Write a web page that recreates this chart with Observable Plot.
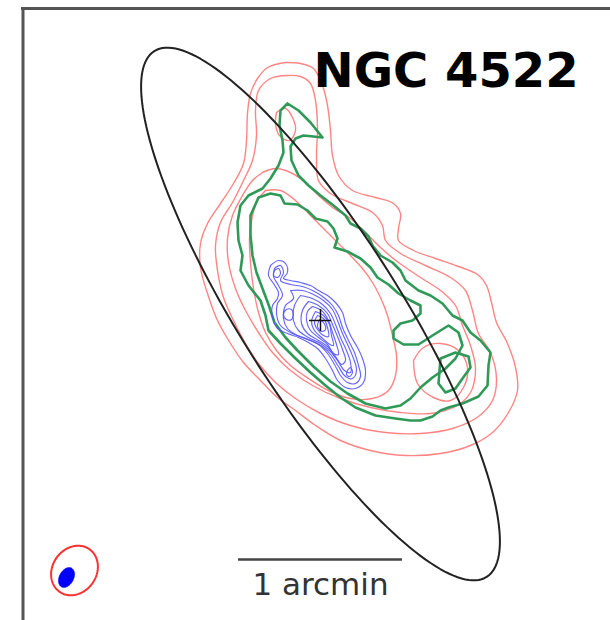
<!DOCTYPE html>
<html><head><meta charset="utf-8">
<script src="https://cdn.jsdelivr.net/npm/d3@7"></script>
<script src="https://cdn.jsdelivr.net/npm/@observablehq/plot@0.6"></script>
<style>body{margin:0;background:#fff}svg{display:block}</style>
</head><body><div id="chart"></div>
<script>
// sky-plane positions (pixel units of the original map), y grows downward
const title = "NGC 4522";
const scaleLabel = "1 arcmin";
const scaleBar = [238, 402];      // x extent of 1 arcmin bar
const scaleBarY = 559;
const center = [320, 320];        // optical centre (cross)
// optical disk ellipse: cx, cy, semi-major, semi-minor, angle (deg)
const diskEllipse = [320, 313.5, 311, 80, 57.7];
// beams: cx, cy, a, b, angle
const beamRed = [74, 570, 26, 22, -55];
const beamBlue = [66, 577, 10.5, 7, -62];

const red1 = [[285,62],[300,63],[313,68],[322,85],[327,105],[330,130],[332,155],[338,175],[352,190],[375,197],[393,203],[400,213],[398,228],[398,240],[413,250],[435,258],[458,266],[477,274],[486,285],[491,302],[496,322],[507,343],[515,367],[517,390],[508,412],[492,432],[470,445],[440,453],[405,455],[370,450],[340,440],[315,425],[295,410],[277,397],[260,380],[243,362],[230,343],[217,320],[207,293],[200,267],[200,243],[207,223],[220,203],[233,183],[243,163],[246,140],[247,113],[250,93],[257,78],[267,67]];
const red2 = [[287,75],[300,76],[310,83],[315,100],[317,127],[316,157],[318,180],[330,193],[352,203],[372,212],[382,225],[385,240],[400,253],[425,265],[450,277],[465,290],[472,310],[478,333],[490,352],[496,378],[492,400],[478,416],[452,428],[420,433],[385,432],[350,425],[320,413],[295,398],[275,382],[258,363],[245,343],[233,320],[223,297],[217,270],[215,245],[220,222],[232,202],[243,180],[252,160],[256,135],[255,110],[258,90],[270,78]];
const red3 = [[262,172],[275,168],[290,172],[305,182],[318,195],[332,207],[350,218],[365,232],[380,247],[398,262],[420,277],[440,290],[455,305],[462,325],[470,345],[475,368],[470,392],[455,406],[430,413],[400,412],[370,407],[340,398],[312,385],[290,370],[272,352],[258,332],[245,310],[235,288],[228,262],[227,238],[232,215],[242,195],[252,180]];
const red3b = [[276,112],[285,108],[292,117],[295,130],[289,140],[279,135],[275,123]];
const red4 = [[265,190],[280,190],[295,200],[310,215],[325,230],[338,243],[350,255],[362,268],[372,282],[380,297],[387,315],[392,335],[396,355],[395,375],[388,390],[372,398],[350,398],[328,390],[308,378],[290,365],[276,350],[265,332],[258,312],[253,288],[250,262],[249,238],[252,215],[257,200]];
const red4b = [[413,360],[423,347],[440,343],[458,350],[467,367],[463,387],[450,400],[433,397],[417,383]];

const green1 = [[287,103],[298,110],[310,122],[322,137],[313,136],[303,135],[295,138],[290,146],[291,160],[298,175],[308,185],[320,195],[333,205],[345,215],[350,223],[360,228],[368,236],[372,245],[380,255],[392,262],[400,270],[405,280],[418,290],[430,295],[442,303],[452,315],[462,320],[470,332],[480,340],[490,352],[488,365],[487,385],[478,396],[462,403],[448,407],[440,410],[432,416],[420,420],[410,420],[395,418],[375,415],[355,407],[340,397],[325,385],[310,372],[295,358],[280,343],[268,330],[265,315],[260,300],[248,285],[240,270],[242,255],[238,240],[237,222],[240,205],[248,195],[262,188],[270,178],[278,165],[283,152],[282,140],[279,125],[280,110]];
const green2 = [[258,197],[270,193],[280,195],[284,203],[297,204],[307,210],[315,218],[327,221],[333,228],[337,238],[334,247],[347,251],[360,258],[370,267],[377,277],[388,284],[398,293],[410,300],[420,305],[420,313],[412,320],[400,323],[393,330],[393,338],[403,344],[418,344],[432,335],[448,325],[458,332],[462,345],[455,358],[445,368],[432,377],[420,387],[410,398],[400,405],[385,408],[365,403],[347,393],[330,381],[313,366],[297,350],[285,337],[274,322],[268,304],[262,288],[256,272],[252,255],[250,235],[250,215]];
const green2b = [[440,358],[455,352],[468,356],[470,367],[462,378],[455,388],[445,392],[438,383]];

const blue1 = [[270,265],[278,260],[285,263],[287,272],[283,278],[290,280],[300,282],[310,285],[318,290],[327,295],[335,302],[342,312],[345,323],[350,335],[357,347],[362,358],[365,370],[363,382],[355,388],[345,387],[337,380],[332,370],[325,358],[317,348],[308,342],[298,337],[287,333],[277,328],[272,317],[272,305],[277,298],[278,292],[273,283],[268,275]];
const blue2 = [[274,268],[280,265],[283,272],[280,280],[290,284],[302,286],[312,290],[322,296],[332,305],[338,315],[342,327],[348,340],[354,352],[358,365],[360,376],[355,383],[347,382],[340,375],[334,364],[327,353],[318,344],[305,338],[292,333],[280,325],[276,313],[277,303],[282,295],[278,285],[273,276]];
const blue3 = [[290,290],[302,290],[313,294],[323,300],[332,309],[337,320],[342,333],[348,346],[353,358],[356,370],[352,378],[345,376],[338,366],[331,355],[322,346],[310,340],[297,335],[287,328],[283,318],[285,305],[293,298]];
const blue4 = [[300,295],[312,298],[322,304],[330,313],[335,324],[340,337],[346,350],[350,362],[350,372],[344,370],[337,360],[329,350],[320,343],[308,337],[298,330],[293,320],[294,305]];
const blue5 = [[308,301],[318,305],[327,313],[332,324],[337,336],[342,349],[345,360],[341,364],[335,356],[328,347],[318,340],[307,333],[301,323],[302,310]];
const blue6 = [[312,306],[321,310],[328,320],[332,332],[336,344],[338,354],[333,353],[327,344],[318,337],[310,330],[306,320],[307,311]];
const blue7 = [[315,311],[323,315],[329,324],[331,335],[333,345],[328,343],[321,337],[314,330],[311,321]];
const blue8 = [[317,315],[323,318],[327,327],[328,336],[323,335],[317,329],[314,322]];
const blue9 = [[319,319],[323,322],[325,329],[321,331],[317,326]];
const blue10 = [[293,314],[291,319],[286,319],[283,314],[286,309],[291,309]];
const blue11 = [[274,270],[278,268],[280,273],[277,277],[273,275]];
const blue12 = [[347,370],[350,367],[352,372],[349,376],[346,374]];

function rows(list, id){ const r = list.map(([x,y])=>({x,y,id})); r.push({x:list[0][0],y:list[0][1],id}); return r; }
function ell([cx,cy,a,b,ang], id){
  const t = ang*Math.PI/180, out=[];
  for(let i=0;i<=180;i++){const s=i/180*2*Math.PI; const u=a*Math.cos(s), v=b*Math.sin(s);
    out.push({x:cx+u*Math.cos(t)-v*Math.sin(t), y:cy+u*Math.sin(t)+v*Math.cos(t), id});}
  return out;
}
const reds = [red1,red2,red3,red3b,red4,red4b].flatMap((c,i)=>rows(c,"r"+i));
const greens = [green1,green2,green2b].flatMap((c,i)=>rows(c,"g"+i));
const blues = [blue1,blue2,blue3,blue4,blue5,blue6,blue7,blue8,blue9,blue10,blue11,blue12].flatMap((c,i)=>rows(c,"b"+i));

const chart = Plot.plot({
  width:610, height:620, margin:0,
  x:{domain:[0,610], axis:null},
  y:{domain:[620,0], axis:null},
  marks:[
    Plot.ruleX([22.5],{y1:7,y2:620,stroke:"#555",strokeWidth:3}),
    Plot.ruleY([8],{x1:21,x2:610,stroke:"#555",strokeWidth:3}),
    Plot.line(reds,{x:"x",y:"y",z:"id",stroke:"#ff7070",strokeWidth:1.4,strokeOpacity:0.85,curve:"catmull-rom"}),
    Plot.line(greens,{x:"x",y:"y",z:"id",stroke:"#2f9a58",strokeWidth:2.6,curve:"linear"}),
    Plot.line(blues,{x:"x",y:"y",z:"id",stroke:"#5555ff",strokeWidth:1.15,strokeOpacity:0.9,curve:"catmull-rom"}),
    Plot.line(ell(diskEllipse,"e"),{x:"x",y:"y",stroke:"#222",strokeWidth:2}),
    Plot.ruleX([center[0]],{y1:center[1]-11,y2:center[1]+11,stroke:"#111",strokeWidth:1.5}),
    Plot.ruleY([center[1]],{x1:center[0]-11,x2:center[0]+11,stroke:"#111",strokeWidth:1.5}),
    Plot.line(ell(beamRed,"br"),{x:"x",y:"y",stroke:"#ff3030",strokeWidth:2}),
    Plot.line(ell(beamBlue,"bb"),{x:"x",y:"y",fill:"#0000ff",stroke:"#0000ff",strokeWidth:1}),
    Plot.ruleY([scaleBarY],{x1:scaleBar[0],x2:scaleBar[1],stroke:"#444",strokeWidth:2.5}),
    Plot.text([scaleLabel],{x:(scaleBar[0]+scaleBar[1])/2,y:594,text:d=>d,fontSize:31,fill:"#333",fontFamily:"DejaVu Sans",lineAnchor:"bottom"}),
    Plot.text([title],{x:313,y:86,text:d=>d,fontSize:48,fontWeight:"bold",fill:"#000",fontFamily:"DejaVu Sans",textAnchor:"start",lineAnchor:"bottom"})
  ]
});
document.getElementById("chart").appendChild(chart);
</script></body></html>
